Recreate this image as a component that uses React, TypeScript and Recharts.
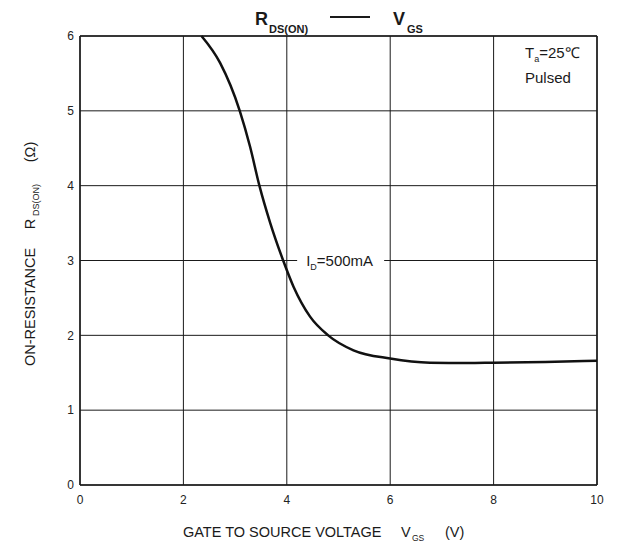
import React from "react";
import {
  ComposedChart,
  Line,
  XAxis,
  YAxis,
  CartesianGrid,
  ReferenceLine,
  ReferenceDot,
} from "recharts";

const vgs = [2.35, 2.71, 3.09, 3.29, 3.47, 3.68, 3.93, 4.13, 4.45, 4.8, 5.29, 6.0, 6.77, 7.5, 8.0, 9.0, 10];
const rds = [6.0, 5.64, 5.0, 4.52, 4.0, 3.5, 3.0, 2.65, 2.25, 2.0, 1.8, 1.69, 1.635, 1.63, 1.635, 1.645, 1.66];
const xTicks = [0, 2, 4, 6, 8, 10];
const yTicks = [0, 1, 2, 3, 4, 5, 6];

const data = vgs.map((v, i) => ({ vgs: v, rds: rds[i] }));

const FONT = "'Liberation Sans', Arial, sans-serif";
const INK = "#1a1a1a";

const LabelShape = (props: any) => {
  const { cx, cy } = props;
  return (
    <g>
      <rect x={cx} y={cy - 9} width={87} height={18} fill="#fff" />
      <text x={cx + 9} y={cy + 5} fontFamily={FONT} fontSize={15} fill={INK}>
        I
        <tspan fontSize={9} dy={4}>D</tspan>
        <tspan dy={-4}>=500mA</tspan>
      </text>
    </g>
  );
};

export default function App() {
  return (
    <div style={{ position: "relative", width: 610, height: 543, fontFamily: FONT }}>
      <ComposedChart
        width={610}
        height={543}
        data={data}
        margin={{ top: 28, right: 21, left: 42, bottom: 36 }}
      >
        <CartesianGrid stroke={INK} strokeWidth={1} />
        <XAxis
          dataKey="vgs"
          type="number"
          domain={[0, 10]}
          ticks={xTicks}
          interval={0}
          tickLine={false}
          tickSize={0}
          tickMargin={10}
          axisLine={{ stroke: INK, strokeWidth: 1.5 }}
          height={30}
          tick={{ fontSize: 12, fill: "#222", fontFamily: FONT }}
        />
        <YAxis
          type="number"
          domain={[0, 6]}
          ticks={yTicks}
          interval={0}
          tickLine={false}
          tickSize={0}
          tickMargin={6}
          axisLine={{ stroke: INK, strokeWidth: 1.5 }}
          width={30}
          tick={{ fontSize: 12, fill: "#222", fontFamily: FONT }}
        />
        <ReferenceLine x={10} stroke={INK} strokeWidth={1.5} />
        <ReferenceLine y={6} stroke={INK} strokeWidth={1.5} />
        <Line
          dataKey="rds"
          type="monotone"
          stroke="#111"
          strokeWidth={2.5}
          dot={false}
          isAnimationActive={false}
        />
        <ReferenceDot x={4.2} y={3} r={0} ifOverflow="visible" shape={LabelShape} />
      </ComposedChart>
      <svg
        width={610}
        height={543}
        style={{ position: "absolute", left: 0, top: 0, pointerEvents: "none" }}
      >
        {/* Title */}
        <text x={247} y={17} fontFamily={FONT} fontSize={18} fontWeight="bold" fill={INK}>R</text>
        <text x={261} y={25} fontFamily={FONT} fontSize={11} fontWeight="bold" fill={INK}>DS(ON)</text>
        <line x1={322} y1={9} x2={362} y2={9} stroke={INK} strokeWidth={2} />
        <text x={385} y={17} fontFamily={FONT} fontSize={18} fontWeight="bold" fill={INK}>V</text>
        <text x={399} y={25} fontFamily={FONT} fontSize={11} fontWeight="bold" fill={INK}>GS</text>

        {/* Conditions */}
        <text x={517} y={50} fontFamily={FONT} fontSize={15} fill={INK}>
          T<tspan fontSize={9} dy={4}>a</tspan>
          <tspan dy={-4}>=25℃</tspan>
        </text>
        <text x={517} y={75} fontFamily={FONT} fontSize={15} fill={INK}>Pulsed</text>

        {/* X axis label */}
        <text x={175} y={529} fontFamily={FONT} fontSize={14.5} fill={INK}>GATE TO SOURCE VOLTAGE</text>
        <text x={393} y={529} fontFamily={FONT} fontSize={14.5} fill={INK}>V</text>
        <text x={404} y={533} fontFamily={FONT} fontSize={8.5} fill={INK}>GS</text>
        <text x={437} y={529} fontFamily={FONT} fontSize={14.5} fill={INK}>(V)</text>

        {/* Y axis label */}
        <text transform="translate(27,299) rotate(-90)" textAnchor="middle" fontFamily={FONT} fontSize={14.5} fill={INK}>ON-RESISTANCE</text>
        <text transform="translate(27,216) rotate(-90)" textAnchor="middle" fontFamily={FONT} fontSize={14.5} fill={INK}>R</text>
        <text transform="translate(31,192) rotate(-90)" textAnchor="middle" fontFamily={FONT} fontSize={9} fill={INK}>DS(ON)</text>
        <text transform="translate(27,144) rotate(-90)" textAnchor="middle" fontFamily={FONT} fontSize={14.5} fill={INK}>(Ω)</text>
      </svg>
    </div>
  );
}
